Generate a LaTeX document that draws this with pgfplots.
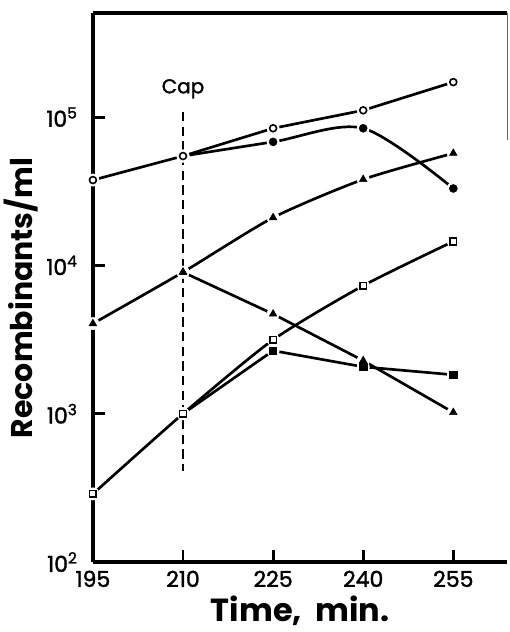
\documentclass[border=0pt]{standalone}
\usepackage{fontspec}
\setmainfont{Poppins}
\newfontface\semibold{Poppins}[FakeBold=1.6]
\usepackage{pgfplots}
\usepackage{pgfplotstable}
\pgfplotsset{compat=1.18}

% series (time in min, recombinants per ml)
\pgfplotstableread{
x y
195 37600
210 54600
225 84000
240 111000
255 172000
}\opencirc
\pgfplotstableread{
x y
210 54600
225 68000
240 84000
255 33000
}\fillcirc
\pgfplotstableread{
x y
195 4050
210 9000
225 21000
240 38000
255 57000
}\triup
\pgfplotstableread{
x y
210 9000
225 4700
240 2280
255 1020
}\tridown
\pgfplotstableread{
x y
195 288
210 1000
225 3150
240 7300
255 14500
}\opensq
\pgfplotstableread{
x y
210 1000
225 2660
240 2070
255 1830
}\fillsq

\pgfplotsset{halo/.style={only marks, mark=*, mark size=4.6pt, white, mark options={draw=white}}}

\begin{document}
\begin{tikzpicture}
\begin{axis}[
    scale only axis,
    width=311pt, height=412pt,
    ymode=log,
    xmin=195, xmax=264,
    ymin=100, ymax=503000,
    axis x line*=bottom, axis y line*=left,
    x axis line style={line width=2.6pt},
    y axis line style={line width=2.6pt},
    xtick={195,210,225,240,255},
    xticklabels={195,210,225,240,255},
    ytick={100,1000,10000,100000},
    yticklabels={10\textsuperscript{2},10\textsuperscript{3},10\textsuperscript{4},10\textsuperscript{5}},
    yminorticks=false, minor tick num=0,
    xtick pos=bottom, ytick pos=left,
    xtick align=inside, ytick align=inside,
    major tick length=9pt,
    major tick style={line width=2.2pt, black},
    ticklabel style={font=\semibold\fontsize{16.5}{16.5}\selectfont},
    xticklabel style={yshift=-3pt},
    yticklabel style={xshift=-8pt},
    xlabel={\bfseries Time,\ \ min.},
    ylabel={\bfseries Recombinants/ml},
    xlabel style={font=\fontsize{24}{24}\selectfont, yshift=0pt, text depth=0pt},
    ylabel style={font=\fontsize{22.5}{22.5}\selectfont, yshift=-1pt, xshift=-8pt},
    clip=false,
    every axis plot/.append style={black},
]
% dashed marker of the cap time
\addplot[line width=1.3pt, dash pattern=on 7pt off 4pt] coordinates {(210,108000) (210,413)};

% inward tick strokes as short plotted segments
\addplot[line width=2.2pt] coordinates {(210,100) (210,120)};
\addplot[line width=2.2pt] coordinates {(225,100) (225,120)};
\addplot[line width=2.2pt] coordinates {(240,100) (240,120)};
\addplot[line width=2.2pt] coordinates {(255,100) (255,120)};
\addplot[line width=2.2pt] coordinates {(195,1000) (197,1000)};
\addplot[line width=2.2pt] coordinates {(195,10000) (197,10000)};
\addplot[line width=2.2pt] coordinates {(195,100000) (197,100000)};

% curves
\addplot[line width=2pt] table {\opencirc};
\addplot[line width=2pt, smooth, tension=0.5] table {\fillcirc};
\addplot[line width=2pt, smooth, tension=0.4] table {\triup};
\addplot[line width=2pt] table {\tridown};
\addplot[line width=2pt, smooth, tension=0.4] table {\opensq};
\addplot[line width=2pt] table {\fillsq};

% white halos that open gaps round the points
\addplot[halo] table {\opencirc};
\addplot[halo] table {\fillcirc};
\addplot[halo] table {\triup};
\addplot[halo] table {\tridown};
\addplot[halo] table {\opensq};
\addplot[halo] table {\fillsq};

% points
\addplot[only marks, mark=o, mark size=2.6pt, mark options={line width=1.2pt, fill=white}] table {\opencirc};
\addplot[only marks, mark=*, mark size=3pt, skip coords between index={0}{1}] table {\fillcirc};
\addplot[only marks, mark=triangle*, mark size=3.3pt] table {\triup};
\addplot[only marks, mark=triangle*, mark size=3.3pt] table {\tridown};
\addplot[only marks, mark=square, mark size=2.5pt, mark options={line width=1.2pt, fill=white}] table {\opensq};
\addplot[only marks, mark=square*, mark size=2.7pt, skip coords between index={0}{1}] table {\fillsq};

\node[font=\semibold\fontsize{15}{15}\selectfont] at (axis cs:210,155000) {Cap};

% top edge and the short piece of right edge left in the scan
\draw[line width=2.6pt] (rel axis cs:0,1) -- (rel axis cs:1,1);
\draw[line width=0.6pt, black!60] (rel axis cs:1,1) -- (rel axis cs:1,0.769);

\coordinate (ll) at (rel axis cs:0,0);
\coordinate (ur) at (rel axis cs:1,1);
\end{axis}
\path (ll) ++(-67.5pt,-52.5pt);
\path (ur) ++(0.75pt,9.75pt);
\end{tikzpicture}
\end{document}
